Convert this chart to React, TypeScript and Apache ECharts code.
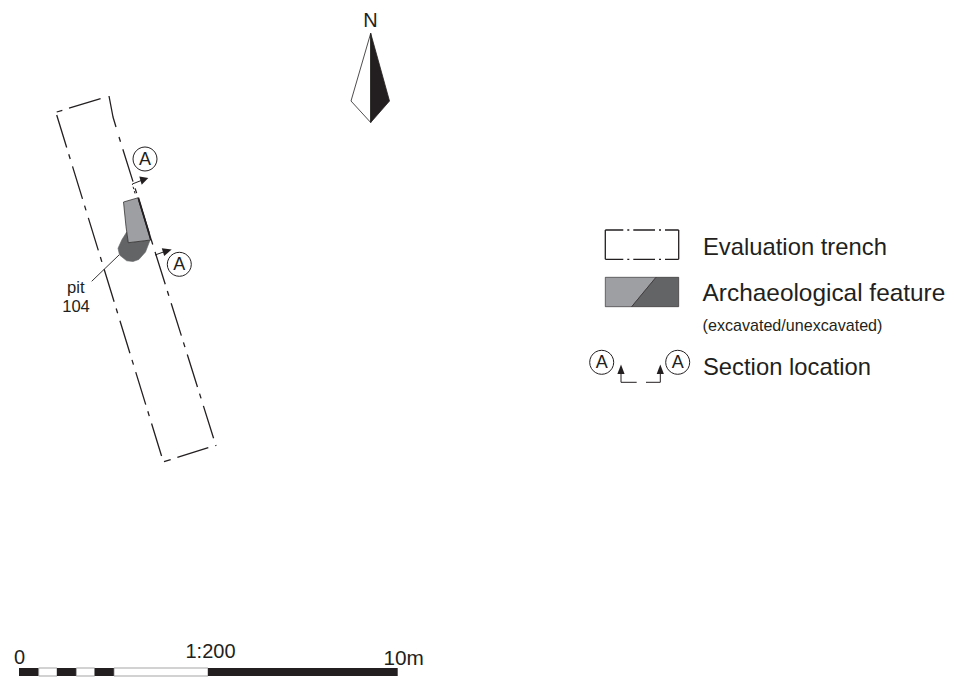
import React, { useEffect, useRef } from "react";
import * as echarts from "echarts";

type P = number[];
const INK = "#231f20";
const LIGHT = "#9d9fa2";
const DARK = "#636466";

// Trench outline (page-scale plan units)
const trenchTop: P[] = [[56.7, 112], [101, 98.4]];
const trenchCorner: P[] = [[109, 96], [113, 117], [116, 127]];
const trenchRight: P[] = [[119, 137], [216, 446]];
const trenchLeft: P[] = [[56.7, 115], [161.7, 456.5]];
const trenchBottom: P[] = [[164, 461.7], [208.3, 447.7]];

// Pit 104
const pitExcavated: P[] = [[123.5, 202], [138.3, 197.7], [150.7, 240], [128.3, 242.7], [126, 226.7], [124.5, 212]];
const pitUnexcavated: P[] = [[126.7, 232], [122, 239.5], [118, 248.3], [119.5, 255], [126.7, 260.8], [133, 261.5], [138.8, 259.5], [145.5, 252], [150, 240.3], [128.3, 242.7]];
const pitEdge: P[] = [[138.3, 197.7], [151, 240]];
const pitLeader: P[] = [[91.7, 281.3], [119, 255]];

// Section A markers on the plan
const sectionUpperTick: P[] = [[135, 193.5], [132.3, 184]];
const sectionUpperArm: P[] = [[132.3, 184], [141, 180.6]];
const sectionUpperHead: P[] = [[148.3, 178], [139.3, 176.5], [141.7, 184.8]];
const sectionLowerArm: P[] = [[155, 255], [163.5, 252]];
const sectionLowerHead: P[] = [[171.7, 249.5], [161.8, 248.3], [164.2, 256]];
const sectionCircles: P[] = [[145, 159], [179.3, 264.3], [601.7, 362.3], [677.7, 362.3]];

// North arrow
const northLeft: P[] = [[370.7, 33.3], [351, 101], [370.7, 122.5]];
const northRight: P[] = [[370.7, 33.3], [389.5, 101], [370.7, 122.5]];

// Legend
const legendTrenchTop: P[] = [[605.3, 230], [678.7, 230]];
const legendTrenchBottom: P[] = [[605.3, 259.3], [678.7, 259.3]];
const legendTrenchLeft: P[] = [[605.3, 230], [605.3, 259.3]];
const legendTrenchRight: P[] = [[678.7, 230], [678.7, 259.3]];
const legendFeatureLight: P[] = [[605.3, 277.3], [656, 277.3], [631.7, 306.7], [605.3, 306.7]];
const legendFeatureDark: P[] = [[656, 277.3], [678.7, 277.3], [678.7, 306.7], [631.7, 306.7]];
const legendSectionLeft: P[] = [[621, 372], [621, 382.3], [636.7, 382.3]];
const legendSectionRight: P[] = [[660.3, 372], [660.3, 382.3], [646, 382.3]];
const legendHeadLeft: P[] = [[621, 364.5], [617.4, 374], [624.6, 374]];
const legendHeadRight: P[] = [[660.3, 364.5], [656.7, 374], [663.9, 374]];

// Scale bar
const scaleEdges = [19, 38.7, 57, 76.3, 94.7, 114, 208, 397.7];
const scaleBarY = [668, 676];

// Text labels: text, x, y, font size, anchor
const labels: [string, number, number, number, string][] = [
  ["N", 370.5, 20.3, 20, "center"],
  ["pit", 75.8, 287, 16.6, "center"],
  ["104", 76, 306.6, 16.6, "center"],
  ["Evaluation trench", 703, 246.6, 23.8, "left"],
  ["Archaeological feature", 702.6, 292.6, 24.4, "left"],
  ["(excavated/unexcavated)", 702.6, 325, 16.1, "left"],
  ["Section location", 703, 366.6, 23.8, "left"],
  ["0", 19.5, 656.5, 20, "center"],
  ["1:200", 210.5, 650.7, 20, "center"],
  ["10m", 403.7, 657, 20.8, "center"],
];

const dashLong = [34, 7, 5, 7.8];

function line(data: P[], type: any = "solid", width = 1.3, z = 3) {
  return {
    type: "line", data, z, showSymbol: false, symbol: "none", clip: false, silent: true,
    lineStyle: { color: INK, width, type, cap: "butt" },
  };
}

function poly(points: P[], fill: string, stroke = "none", lineWidth = 0.8, z = 2) {
  return {
    type: "custom", z, clip: false, silent: true, data: [points[0]],
    renderItem: (_p: any, api: any) => ({
      type: "polygon",
      shape: { points: points.map((q) => api.coord(q)) },
      style: { fill, stroke, lineWidth },
    }),
  };
}

export default function App() {
  const ref = useRef<HTMLDivElement>(null);
  useEffect(() => {
    document.body.style.margin = "0";
    const chart = echarts.init(ref.current!, undefined, { renderer: "svg" });
    chart.setOption({
      animation: false,
      backgroundColor: "#ffffff",
      grid: { left: 0, right: 0, top: 0, bottom: 0 },
      xAxis: { type: "value", min: 0, max: 954, show: false },
      yAxis: { type: "value", min: 0, max: 677, inverse: true, show: false },
      series: [
        // pit
        poly(pitUnexcavated, DARK, DARK, 0.6, 2),
        poly(pitExcavated, LIGHT, INK, 0.7, 3),
        line(pitEdge, "solid", 1.8, 4),
        line(pitLeader, "solid", 0.9),
        // trench
        line(trenchTop, [5.9, 7, 33, 100]),
        line(trenchCorner),
        line(trenchRight, [5, 7.8, 34, 7]),
        line(trenchLeft, dashLong),
        line(trenchBottom, [7, 7, 33, 100]),
        // section markers
        line(sectionUpperTick, [2.5, 2], 1),
        line(sectionUpperArm, "solid", 1),
        poly(sectionUpperHead, INK),
        line(sectionLowerArm, "solid", 1),
        poly(sectionLowerHead, INK),
        {
          type: "scatter", data: sectionCircles, symbol: "circle", symbolSize: 24, z: 5, clip: false, silent: true,
          itemStyle: { color: "#ffffff", borderColor: INK, borderWidth: 1, opacity: 1 },
          label: { show: true, position: "inside", formatter: "A", color: INK, fontFamily: "Liberation Sans", fontSize: 18 },
        },
        // north arrow
        poly(northLeft, "#ffffff", INK, 0.8),
        poly(northRight, INK, INK, 0.8),
        // legend
        line(legendTrenchTop, [18, 4, 2, 4, 21.7, 4, 2, 4, 14]),
        line(legendTrenchBottom, [18, 4, 2, 4, 21.7, 4, 2, 4, 14]),
        line(legendTrenchLeft),
        line(legendTrenchRight),
        poly(legendFeatureLight, LIGHT, INK, 0.6),
        poly(legendFeatureDark, DARK, INK, 0.6),
        line(legendSectionLeft, "solid", 1),
        line(legendSectionRight, "solid", 1),
        poly(legendHeadLeft, INK),
        poly(legendHeadRight, INK),
        // scale bar
        {
          type: "custom", z: 3, clip: false, silent: true,
          data: scaleEdges.slice(0, -1).map((e, i) => [e, scaleEdges[i + 1]]),
          encode: { x: [0, 1] },
          renderItem: (p: any, api: any) => {
            const a = api.coord([api.value(0), scaleBarY[0]]);
            const b = api.coord([api.value(1), scaleBarY[1]]);
            const black = p.dataIndex % 2 === 0;
            return {
              type: "rect",
              shape: { x: a[0], y: a[1], width: b[0] - a[0], height: b[1] - a[1] },
              style: { fill: black ? INK : "#ffffff", stroke: black ? INK : "#808080", lineWidth: black ? 0 : 0.7 },
            };
          },
        },
        // text
        {
          type: "custom", z: 6, clip: false, silent: true,
          data: labels.map((l) => [l[1], l[2]]),
          renderItem: (p: any, api: any) => {
            const l = labels[p.dataIndex];
            const c = api.coord([l[1], l[2]]);
            return {
              type: "text", x: c[0], y: c[1],
              style: {
                text: l[0], fill: INK, align: l[4], verticalAlign: "middle",
                font: `${l[3]}px "Liberation Sans", Arial, sans-serif`,
              },
            };
          },
        },
      ],
    });
    return () => chart.dispose();
  }, []);
  return <div ref={ref} style={{ width: 954, height: 677 }} />;
}
